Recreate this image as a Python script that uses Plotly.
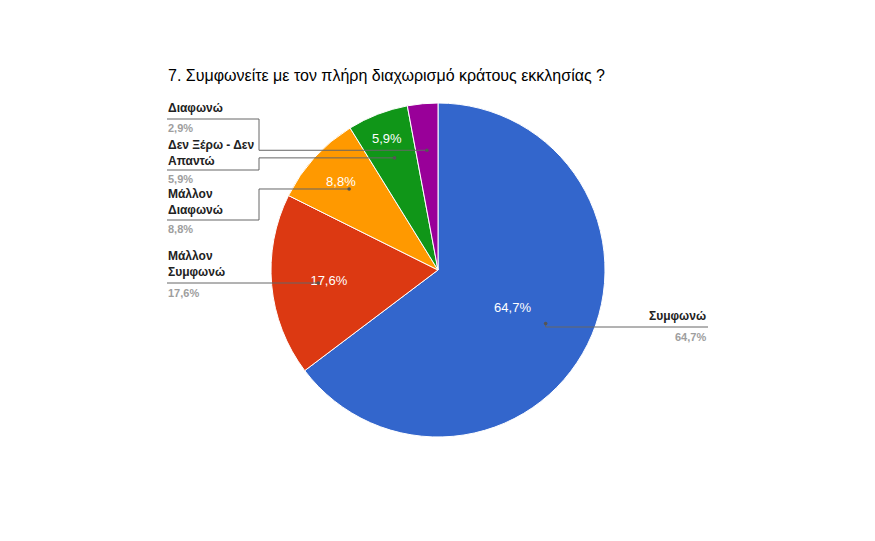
import math
import plotly.graph_objects as go

labels = ["Συμφωνώ", "Μάλλον Συμφωνώ", "Μάλλον Διαφωνώ", "Δεν Ξέρω - Δεν Απαντώ", "Διαφωνώ"]
label_lines = ["Συμφωνώ", "Μάλλον<br>Συμφωνώ", "Μάλλον<br>Διαφωνώ", "Δεν Ξέρω - Δεν<br>Απαντώ", "Διαφωνώ"]
values = [22, 6, 3, 2, 1]
colors = ["#3366cc", "#dc3912", "#ff9900", "#109618", "#990099"]
title = "7. Συμφωνείτε με τον πλήρη διαχωρισμό κράτους εκκλησίας ?"

W, H = 875, 541
OFF = 8  # page body margin
cx, cy, R = 438, 270, 167
total = sum(values)
pcts = [f"{v/total*100:.1f}".replace(".", ",") + "%" for v in values]
inside = [p if v / total > 0.04 else "" for p, v in zip(pcts, values)]

def px(x, y):
    return (x - OFF) / W, 1 - (y - OFF) / H

d0x, d0y = px(cx - R, cy + R)
d1x, d1y = px(cx + R, cy - R)
fig = go.Figure(go.Pie(
    labels=labels, values=values, sort=False, direction="clockwise", rotation=0,
    marker=dict(colors=colors, line=dict(color="white", width=1)),
    text=inside, textinfo="text", textposition="inside", insidetextorientation="horizontal",
    textfont=dict(color="white", size=13, family="Arial, Liberation Sans"),
    domain=dict(x=[d0x, d1x], y=[d0y, d1y]),
    showlegend=False, hoverinfo="label+percent",
))

layout_pos = {
    0: (316, 327, 337, "right"),
    1: (264, 283, 293, "left"),
    2: (202, 220, 229, "left"),
    3: (153, 170, 179, "left"),
    4: (108, 119, 128, "left"),
}
shapes, annots = [], []
cum = 0
for i, v in enumerate(values):
    mid = (cum + v / 2) / total * 2 * math.pi
    cum += v
    dx, dy = cx + 0.72 * R * math.sin(mid), cy - 0.72 * R * math.cos(mid)
    ny, uy, py, side = layout_pos[i]
    lc = "#666666"
    if side == "right":
        pts = [(dx, dy), (dx, uy), (708, uy)]
        xa, tx = "right", 708
    elif abs(uy - dy) < 4:
        pts = [(dx, uy), (167, uy)]
        xa, tx = "left", 166
    else:
        pts = [(dx, dy), (259, dy), (259, uy), (167, uy)]
        xa, tx = "left", 166
    for (x0, y0), (x1, y1) in zip(pts[:-1], pts[1:]):
        a0, b0 = px(x0, y0); a1, b1 = px(x1, y1)
        shapes.append(dict(type="line", xref="paper", yref="paper", x0=a0, y0=b0, x1=a1, y1=b1,
                           line=dict(color=lc, width=1)))
    a, b = px(pts[0][0], pts[0][1])
    shapes.append(dict(type="circle", xref="paper", yref="paper", x0=a - 1.8 / W, x1=a + 1.8 / W,
                       y0=b - 1.8 / H, y1=b + 1.8 / H, fillcolor="#555555", line=dict(width=0)))
    ax_, ay_ = px(tx, ny)
    annots.append(dict(xref="paper", yref="paper", x=ax_, y=ay_, xanchor=xa, yanchor="middle",
                       text=f"<b>{label_lines[i]}</b>", showarrow=False, align=xa,
                       font=dict(size=12, color="#222222", family="Arial, Liberation Sans")))
    ax_, ay_ = px(tx, py)
    annots.append(dict(xref="paper", yref="paper", x=ax_, y=ay_, xanchor=xa, yanchor="middle",
                       text=f"<b>{pcts[i]}</b>", showarrow=False,
                       font=dict(size=11, color="#9e9e9e", family="Arial, Liberation Sans")))

tx_, ty_ = px(166, 75)
annots.append(dict(xref="paper", yref="paper", x=tx_, y=ty_, xanchor="left", yanchor="middle",
                   text=title, showarrow=False,
                   font=dict(size=16, color="#000000", family="Arial, Liberation Sans")))

fig.update_layout(width=W, height=H, margin=dict(l=0, r=0, t=0, b=0),
                  paper_bgcolor="white", plot_bgcolor="white",
                  shapes=shapes, annotations=annots)
fig.write_html("out.html")
